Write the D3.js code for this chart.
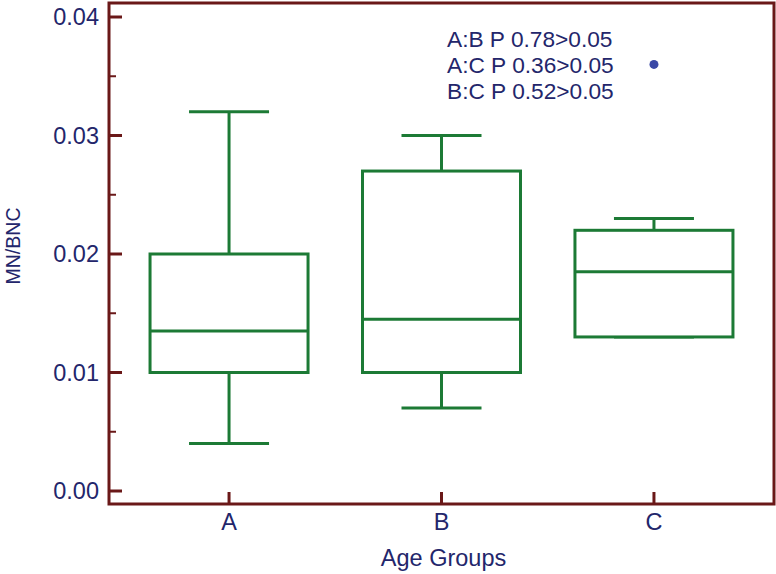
<!DOCTYPE html>
<html>
<head>
<meta charset="utf-8">
<script src="https://cdn.jsdelivr.net/npm/d3@7"></script>
<style>
  body { margin: 0; background: #fff; }
  text { font-family: "Liberation Sans", Arial, sans-serif; fill: #23266b; }
</style>
</head>
<body>
<svg width="776" height="574"></svg>
<script>
// data
var groups = ["A", "B", "C"];
var whiskerLow  = [0.004, 0.007, 0.013];
var q1          = [0.010, 0.010, 0.013];
var median      = [0.0135, 0.0145, 0.0185];
var q3          = [0.020, 0.027, 0.022];
var whiskerHigh = [0.032, 0.030, 0.023];
var outliers = [{group: "C", value: 0.036}];
var yTicks = [0, 0.01, 0.02, 0.03, 0.04];
var yMinorTicks = [0.005, 0.015, 0.025, 0.035];
var notes = ["A:B P 0.78>0.05", "A:C P 0.36>0.05", "B:C P 0.52>0.05"];

var svg = d3.select("svg"),
    frame = {left: 109, top: 3, right: 774, bottom: 504},
    axisColor = "#6a1818",
    boxColor = "#1c7a35";

var x = d3.scalePoint().domain(groups).range([frame.left, frame.right]).padding(0.565),
    y = d3.scaleLinear().domain([0, 0.04]).range([491, 17]);

var boxW = 158, capW = 80;

var data = groups.map(function(g, i) {
    return {group: g, lo: whiskerLow[i], q1: q1[i], med: median[i], q3: q3[i], hi: whiskerHigh[i]};
});

// frame
svg.append("rect")
    .attr("x", frame.left)
    .attr("y", frame.top)
    .attr("width", frame.right - frame.left)
    .attr("height", frame.bottom - frame.top)
    .attr("fill", "none")
    .attr("stroke", axisColor)
    .attr("stroke-width", 3);

// y ticks (inside)
svg.selectAll(".ytick")
    .data(yTicks)
    .enter().append("line")
        .attr("x1", frame.left)
        .attr("x2", frame.left + 13)
        .attr("y1", function(d) { return y(d); })
        .attr("y2", function(d) { return y(d); })
        .attr("stroke", axisColor)
        .attr("stroke-width", 3);

svg.selectAll(".yminor")
    .data(yMinorTicks)
    .enter().append("line")
        .attr("x1", frame.left)
        .attr("x2", frame.left + 7)
        .attr("y1", function(d) { return y(d); })
        .attr("y2", function(d) { return y(d); })
        .attr("stroke", axisColor)
        .attr("stroke-width", 2);

svg.selectAll(".ylabel")
    .data(yTicks)
    .enter().append("text")
        .attr("x", 99)
        .attr("y", function(d) { return y(d); })
        .attr("dy", "0.36em")
        .attr("text-anchor", "end")
        .style("font-size", "23.5px")
        .text(d3.format(".2f"));

// x ticks
svg.selectAll(".xtick")
    .data(groups)
    .enter().append("line")
        .attr("x1", function(d) { return x(d); })
        .attr("x2", function(d) { return x(d); })
        .attr("y1", frame.bottom)
        .attr("y2", frame.bottom - 12)
        .attr("stroke", axisColor)
        .attr("stroke-width", 3);

svg.selectAll(".xlabel")
    .data(groups)
    .enter().append("text")
        .attr("x", function(d) { return x(d); })
        .attr("y", 530)
        .attr("text-anchor", "middle")
        .style("font-size", "23.5px")
        .text(function(d) { return d; });

// axis titles
svg.append("text")
    .attr("x", (frame.left + frame.right) / 2 + 2)
    .attr("y", 566)
    .attr("text-anchor", "middle")
    .style("font-size", "23.5px")
    .text("Age Groups");

svg.append("text")
    .attr("transform", "translate(20,246) rotate(-90)")
    .attr("text-anchor", "middle")
    .style("font-size", "19.5px")
    .text("MN/BNC");

// boxes
var box = svg.selectAll(".box")
    .data(data)
    .enter().append("g")
        .attr("class", "box")
        .attr("fill", "none")
        .attr("stroke", boxColor)
        .attr("stroke-width", 3);

box.append("line")
    .attr("x1", function(d) { return x(d.group); })
    .attr("x2", function(d) { return x(d.group); })
    .attr("y1", function(d) { return y(d.hi); })
    .attr("y2", function(d) { return y(d.q3); });

box.append("line")
    .attr("x1", function(d) { return x(d.group); })
    .attr("x2", function(d) { return x(d.group); })
    .attr("y1", function(d) { return y(d.q1); })
    .attr("y2", function(d) { return y(d.lo); });

box.append("line")
    .attr("x1", function(d) { return x(d.group) - capW / 2; })
    .attr("x2", function(d) { return x(d.group) + capW / 2; })
    .attr("y1", function(d) { return y(d.hi); })
    .attr("y2", function(d) { return y(d.hi); });

box.append("line")
    .attr("x1", function(d) { return x(d.group) - capW / 2; })
    .attr("x2", function(d) { return x(d.group) + capW / 2; })
    .attr("y1", function(d) { return y(d.lo); })
    .attr("y2", function(d) { return y(d.lo); });

box.append("rect")
    .attr("x", function(d) { return x(d.group) - boxW / 2; })
    .attr("y", function(d) { return y(d.q3); })
    .attr("width", boxW)
    .attr("height", function(d) { return y(d.q1) - y(d.q3); })
    .attr("fill", "#fff");

box.append("line")
    .attr("x1", function(d) { return x(d.group) - boxW / 2; })
    .attr("x2", function(d) { return x(d.group) + boxW / 2; })
    .attr("y1", function(d) { return y(d.med); })
    .attr("y2", function(d) { return y(d.med); });

// outliers
svg.selectAll(".outlier")
    .data(outliers)
    .enter().append("circle")
        .attr("cx", function(d) { return x(d.group); })
        .attr("cy", function(d) { return y(d.value); })
        .attr("r", 4.5)
        .attr("fill", "#3a48a6");

// p-value notes
svg.selectAll(".note")
    .data(notes)
    .enter().append("text")
        .attr("x", 447)
        .attr("y", function(d, i) { return 47 + i * 26; })
        .style("font-size", "22.7px")
        .text(function(d) { return d; });
</script>
</body>
</html>
